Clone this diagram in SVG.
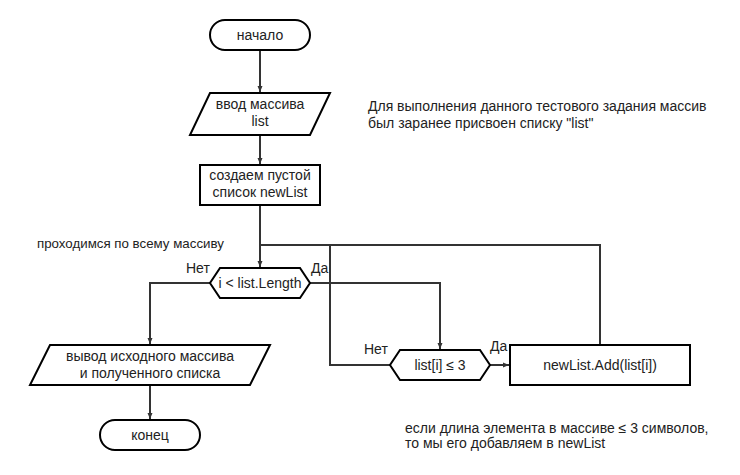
<svg xmlns="http://www.w3.org/2000/svg" width="740" height="475" viewBox="0 0 740 475">
<defs>
<marker id="ah" markerWidth="8" markerHeight="8" refX="7" refY="4" orient="auto" markerUnits="userSpaceOnUse">
<path d="M1,1.5 L7,4 L1,6.5 Z" fill="#333"/>
</marker>
<style>
.s{fill:#fff;stroke:#000;stroke-width:2}
.c{fill:none;stroke:#333;stroke-width:2}
.t{font-family:"Liberation Sans",Arial,sans-serif;font-size:14px;fill:#222}
.m{text-anchor:middle}
</style>
</defs>
<rect width="740" height="475" fill="#fff"/>
<g id="connectors">
<path class="c" d="M260,50 V92" marker-end="url(#ah)"/>
<path class="c" d="M260,135 V164" marker-end="url(#ah)"/>
<path class="c" d="M260,205 V267" marker-end="url(#ah)"/>
<path class="c" d="M260,245 H600 V345"/>
<path class="c" d="M210,283 H150 V344" marker-end="url(#ah)"/>
<path class="c" d="M310,283 H440 V349" marker-end="url(#ah)"/>
<path class="c" d="M390,365 H330 V245"/>
<path class="c" d="M490,365 H509" marker-end="url(#ah)"/>
<path class="c" d="M150,385 V419" marker-end="url(#ah)"/>
</g>
<g id="start">
<rect class="s" x="210" y="20" width="100" height="30" rx="15"/>
<text class="t m" x="260" y="40">начало</text>
</g>
<g id="input">
<path class="s" d="M210,93 H330 L310,135 H190 Z"/>
<text class="t m" x="260" y="109">ввод массива</text>
<text class="t m" x="260" y="126">list</text>
</g>
<g id="create">
<rect class="s" x="200" y="165" width="120" height="40"/>
<text class="t m" x="260" y="180">создаем пустой</text>
<text class="t m" x="260" y="197">список newList</text>
</g>
<g id="cond1">
<path class="s" d="M220,268 H300 L310,283 L300,298 H220 L210,283 Z"/>
<text class="t m" x="260" y="288">i &lt; list.Length</text>
</g>
<g id="cond2">
<path class="s" d="M400,350 H480 L490,365 L480,380 H400 L390,365 Z"/>
<text class="t m" x="440" y="370">list[i] ≤ 3</text>
</g>
<g id="add">
<rect class="s" x="510" y="345" width="180" height="40"/>
<text class="t m" x="600" y="370">newList.Add(list[i])</text>
</g>
<g id="output">
<path class="s" d="M50,345 H270 L250,385 H30 Z"/>
<text class="t m" x="150" y="361">вывод исходного массива</text>
<text class="t m" x="150" y="378">и полученного списка</text>
</g>
<g id="end">
<rect class="s" x="100" y="420" width="100" height="30" rx="15"/>
<text class="t m" x="150" y="440">конец</text>
</g>
<g id="labels">
<text class="t" x="186" y="273">Нет</text>
<text class="t" x="311" y="273">Да</text>
<text class="t" x="364" y="354">Нет</text>
<text class="t" x="490" y="351">Да</text>
<text class="t" x="368" y="111">Для выполнения данного тестового задания массив</text>
<text class="t" x="368" y="128">был заранее присвоен списку "list"</text>
<text class="t" x="37" y="248" style="font-size:13.3px">проходимся по всему массиву</text>
<text class="t" x="405" y="433">если длина элемента в массиве ≤ 3 символов,</text>
<text class="t" x="405" y="448">то мы его добавляем в newList</text>
</g>
</svg>
